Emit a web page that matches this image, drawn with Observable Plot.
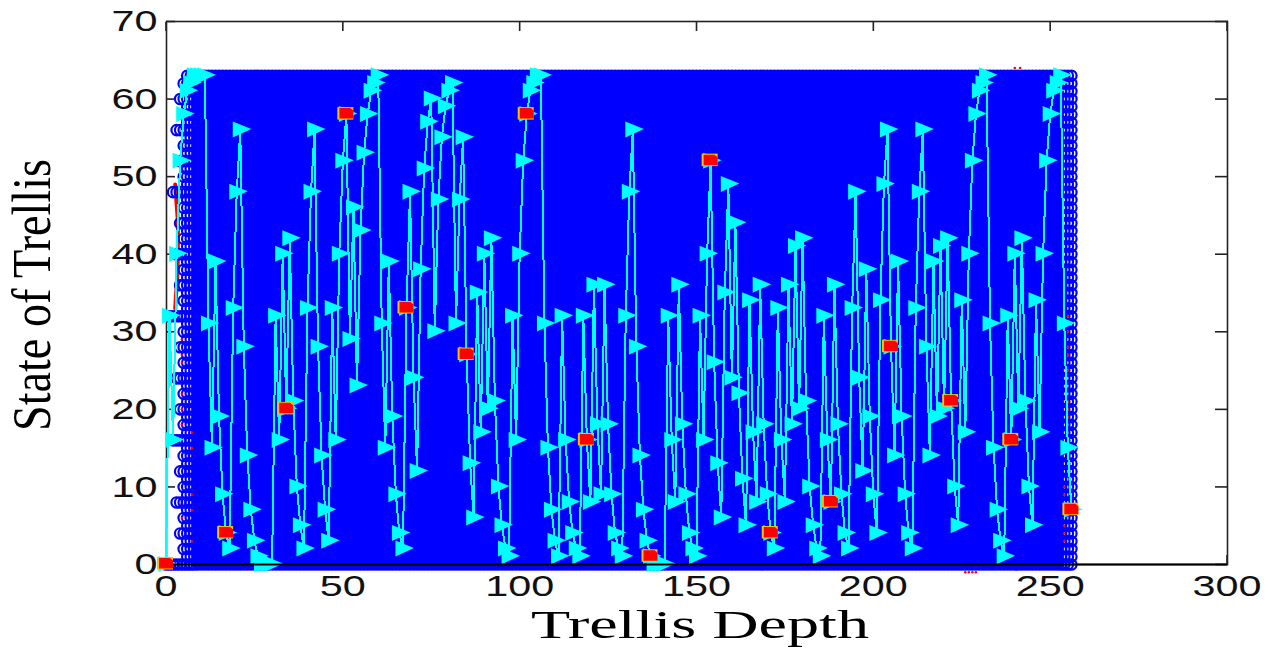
<!DOCTYPE html>
<html>
<head>
<meta charset="utf-8">
<style>html,body{margin:0;padding:0;background:#fff}svg{display:block}</style>
<script src="https://cdn.jsdelivr.net/npm/d3@7"></script>
<script src="https://cdn.jsdelivr.net/npm/@observablehq/plot@0.6"></script>
</head>
<body>
<div id="chart"></div>
<script>
const xLabel = "Trellis Depth";
const yLabel = "State of Trellis";
const xTicks = [0, 50, 100, 150, 200, 250, 300];
const yTicks = [0, 10, 20, 30, 40, 50, 60, 70];
const depthCount = 257;
const stateCount = 64;
const earlyStride = [64, 32, 16, 8, 4, 2];
const pathStates = [
  0,32,16,40,52,58,61,62,63,63,63,63,31,15,39,19,9,4,
  2,33,48,56,28,14,7,3,1,0,0,0,0,32,16,40,20,
  42,21,10,5,2,33,48,56,28,14,7,3,33,16,40,52,58,
  29,46,23,43,53,58,61,62,63,31,15,39,19,9,4,2,33,
  48,24,12,38,51,57,60,30,47,55,59,61,62,31,47,55,27,
  13,6,35,17,40,20,42,21,10,5,2,1,32,16,40,52,58,
  61,62,63,63,31,15,7,3,1,32,16,8,4,2,1,32,16,
  8,36,18,9,36,18,9,4,2,1,32,48,56,28,14,7,3,1,
  0,0,0,0,32,16,8,36,18,9,4,2,1,32,16,40,52,
  26,13,6,35,49,24,44,22,11,5,34,17,8,36,18,9,4,
  2,33,16,8,36,18,41,20,42,21,10,5,2,1,32,16,8,
  36,18,9,4,2,33,48,24,12,38,19,9,4,34,49,56,28,
  14,39,19,9,4,2,33,48,56,28,14,39,19,41,20,42,21,
  10,5,34,17,40,52,58,61,62,63,31,15,7,3,1,32,16,
  40,20,42,21,10,5,34,17,40,52,58,61,62,63,31,15,7
];
const squareDepths = [0,17,34,51,68,85,102,119,137,154,171,188,205,222,239,256];
const squareStates = [0,4,20,58,33,27,58,16,1,52,4,8,28,21,16,7];
const redSpeckDepths = [4.5,4.5,4.5,4.5,4.5,4.5,4.5,7.3,7.3,7.3,7.3,7.3,
  255,255,255,255,255,255,255,255,254,254,254,254,254,240,241.5,226,227,228,229];
const redSpeckStates = [29,27,26,22,20,18,6,17,15,9,7,3,
  32,30,28,27,25,21,20,19,10,9,5,4,3,64,64,-1,-1,-1,-1];
const redEdgeDepths = [2.6,3.4,3.3,2.6];
const redEdgeStates = [49,44,38,33];
const solidFromDepth = 9;
const solidToDepth = 252;

const rings = [];
for (let d = 0; d < depthCount; d++) {
  const stride = d < earlyStride.length ? earlyStride[d] : 1;
  for (let s = 0; s < stateCount; s += stride) rings.push({d, s});
}
const solidRings = rings.filter(p => p.d >= solidFromDepth && p.d <= solidToDepth);
const openRings = rings.filter(p => p.d < solidFromDepth || p.d > solidToDepth);
const path = pathStates.map((s, d) => ({d, s}));
const squares = squareDepths.map((d, i) => ({d, s: squareStates[i]}));
const specks = redSpeckDepths.map((d, i) => ({d, s: redSpeckStates[i]}));
const redEdge = redEdgeDepths.map((d, i) => ({d, s: redEdgeStates[i]}));

const flag = {draw(c) { c.moveTo(-7.5, -8.5); c.lineTo(11, -1); c.lineTo(-7.5, 7.5); c.closePath(); }};
const block = {draw(c) { c.moveTo(-9, -7.5); c.lineTo(7, -7.5); c.lineTo(7, 5); c.lineTo(-9, 5); c.closePath(); }};
const blockCore = {draw(c) { c.moveTo(-7, -6.5); c.lineTo(4, -6.5); c.lineTo(7, -4); c.lineTo(7, 4); c.lineTo(-7, 4); c.closePath(); }};

const plot = Plot.plot({
  width: 1280,
  height: 648,
  marginLeft: 166,
  marginRight: 53,
  marginTop: 21,
  marginBottom: 84,
  style: {background: "#fff", overflow: "visible"},
  x: {domain: [0, 300], range: [165.5, 1226.5]},
  y: {domain: [0, 70], range: [564, 21]},
  marks: [
    Plot.frame({stroke: "#222", strokeWidth: 1.6}),
    Plot.axisX({anchor: "bottom", ticks: xTicks, tickSize: 0, tickPadding: 10, fontSize: 30, fontFamily: "Liberation Sans", label: null, color: "#111", tickFormat: d => `${d}`}),
    Plot.axisX({anchor: "top", ticks: xTicks, tickSize: -9, fill: "none", stroke: "#222", strokeWidth: 1.6, label: null}),
    Plot.axisX({anchor: "bottom", ticks: xTicks, tickSize: -9, fill: "none", stroke: "#222", strokeWidth: 1.6, label: null}),
    Plot.axisY({anchor: "left", ticks: yTicks, tickSize: 0, tickPadding: 9, fontSize: 30, fontFamily: "Liberation Sans", label: null, color: "#111", tickFormat: d => `${d}`}),
    Plot.axisY({anchor: "left", ticks: yTicks, tickSize: -9, fill: "none", stroke: "#222", strokeWidth: 1.6, label: null}),
    Plot.axisY({anchor: "right", ticks: yTicks, tickSize: -13, fill: "none", stroke: "#222", strokeWidth: 1.6, label: null}),
    Plot.line(redEdge, {x: "d", y: "s", stroke: "#ff0000", strokeWidth: 4}),
    Plot.dot(solidRings, {x: "d", y: "s", r: 5.5, stroke: "#0000ff", strokeWidth: 1.5, fill: "#0000ff"}),
    Plot.dot(openRings, {x: "d", y: "s", r: 5.2, stroke: "#0000ff", strokeWidth: 2.2, fill: "none"}),
    Plot.dot(specks, {x: "d", y: "s", r: 1.3, fill: "#ff0000"}),
    Plot.line(path, {x: "d", y: "s", stroke: "#00ffff", strokeWidth: 2, curve: "linear", shapeRendering: "crispEdges"}),
    Plot.dot(path, {x: "d", y: "s", symbol: flag, fill: "#00ffff", stroke: "none"}),
    Plot.ruleY([0], {stroke: "#000", strokeWidth: 2}),
    Plot.dot(squares, {x: "d", y: "s", symbol: block, fill: "#f2c400", stroke: "none"}),
    Plot.dot(squares, {x: "d", y: "s", symbol: blockCore, fill: "#ff0000", stroke: "none"}),
    Plot.text([xLabel], {frameAnchor: "bottom", dx: 3, dy: 73, fontSize: 39, fontFamily: "Liberation Serif", fill: "#000", lineAnchor: "bottom"}),
    Plot.text([yLabel], {frameAnchor: "left", textAnchor: "middle", rotate: -90, dx: -134, dy: 2, fontSize: 55, fontFamily: "Liberation Serif", fill: "#000"})
  ]
});
// The reference is a horizontally stretched bitmap: stretch the glyphs of each label the same way.
const digitWidth = 23;
plot.querySelectorAll("text").forEach(t => {
  const txt = t.textContent.trim();
  let len = null;
  if (txt === xLabel) len = 338;
  else if (txt === yLabel) len = 272;
  else if (/^\d+$/.test(txt)) len = digitWidth * txt.length;
  if (len) { t.setAttribute("textLength", len); t.setAttribute("lengthAdjust", "spacingAndGlyphs"); }
});
document.getElementById("chart").appendChild(plot);
</script>
</body>
</html>
